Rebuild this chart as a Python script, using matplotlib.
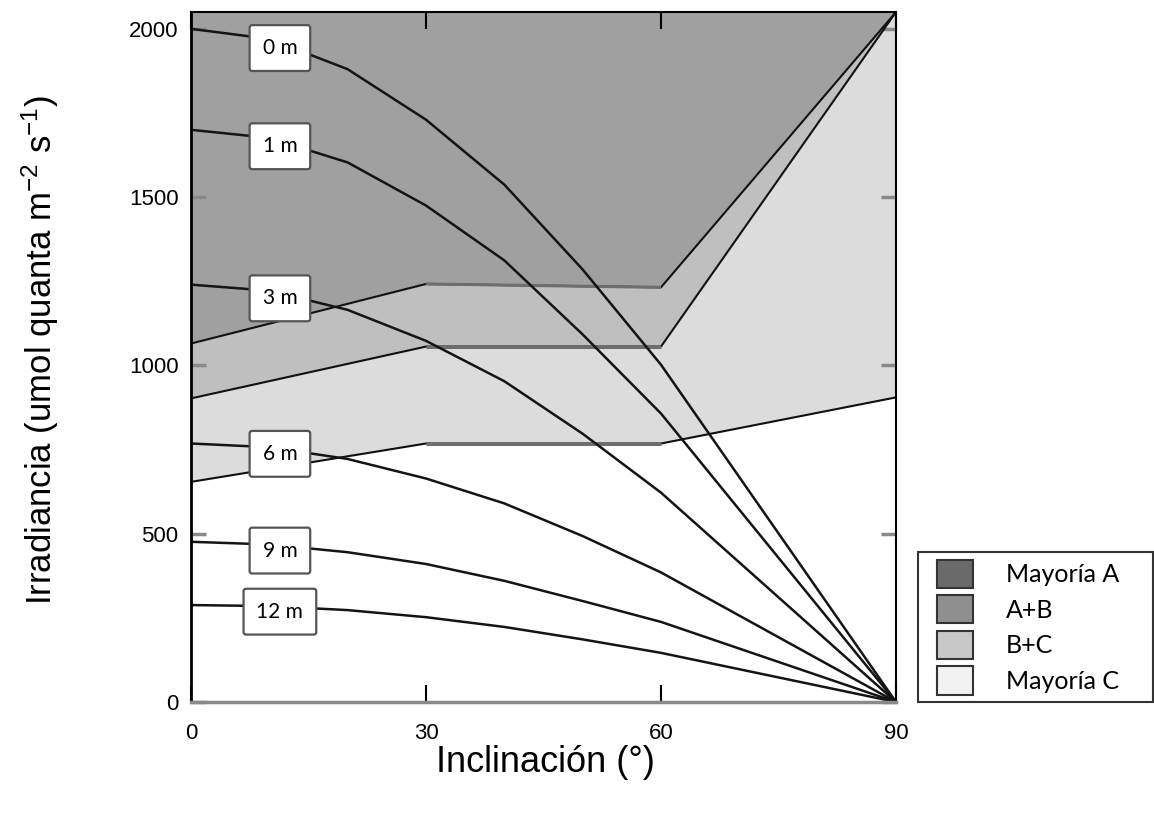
import matplotlib
matplotlib.use("Agg")
import matplotlib.pyplot as plt
from matplotlib.patches import Patch, Rectangle
from matplotlib.legend_handler import HandlerPatch
import numpy as np

plt.rcParams['font.family'] = ['Liberation Sans', 'DejaVu Sans']
plt.rcParams['mathtext.default'] = 'regular'

# ---- data ----
inclinacion = [0, 10, 20, 30, 40, 50, 60, 90]
depth_labels = ['0 m', '1 m', '3 m', '6 m', '9 m', '12 m']
irr_0m = [2000, 1970, 1880, 1730, 1537, 1285, 1002, 0]
irr_1m = [1700, 1676, 1603, 1475, 1312, 1092, 857, 0]
irr_3m = [1240, 1222, 1165, 1073, 953, 797, 622, 0]
irr_6m = [768, 757, 722, 664, 590, 493, 385, 0]
irr_9m = [476, 468, 445, 410, 360, 300, 238, 0]
irr_12m = [288, 285, 273, 252, 223, 186, 146, 0]
series = [irr_0m, irr_1m, irr_3m, irr_6m, irr_9m, irr_12m]

limite_x = [0, 30, 60, 90]
limite_sup = [1065, 1242, 1232, 2050]
limite_med = [902, 1056, 1056, 2050]
limite_inf = [654, 768, 768, 905]

legend_labels = ['Mayoría A', 'A+B', 'B+C', 'Mayoría C']
legend_colors = ['#6a6a6a', '#8f8f8f', '#c8c8c8', '#f2f2f2']

YMAX = 2050

W, H = 1154, 827
fig = plt.figure(figsize=(W / 100, H / 100), dpi=100)
ax = fig.add_axes([191 / W, 1 - 702 / H, (896 - 191) / W, (702 - 12) / H])
ax.set_xlim(0, 90)
ax.set_ylim(0, YMAX)

# ---- regions ----
ax.fill_between(limite_x, limite_sup, YMAX, color='#a0a0a0', lw=0, zorder=1)
ax.fill_between(limite_x, limite_med, limite_sup, color='#bfbfbf', lw=0, zorder=1)
ax.fill_between(limite_x, limite_inf, limite_med, color='#dcdcdc', lw=0, zorder=1)

for lim in (limite_sup, limite_med, limite_inf):
    ax.plot(limite_x, lim, color='#111111', lw=1.5, zorder=2, solid_capstyle='butt')
    ax.plot(limite_x[1:3], lim[1:3], color='#6e6e6e', lw=2.2, zorder=2.1,
            solid_capstyle='butt')

# ---- depth curves ----
for vals in series:
    ax.plot(inclinacion, vals, color='#141414', lw=1.8, zorder=3)

label_x = 11.35
for lab, vals in zip(depth_labels, series):
    yv = np.interp(label_x, inclinacion, vals) - 15
    ax.text(label_x, yv, lab, ha='center', va='center', fontsize=15,
            family=['Lato', 'DejaVu Sans'], zorder=6,
            bbox=dict(boxstyle='round,pad=0.62,rounding_size=0.12', fc='white',
                      ec='#555555', lw=1.6))

# ---- axes styling ----
ax.spines['left'].set_linewidth(2)
ax.spines['left'].set_color('black')
for side in ('top', 'right'):
    ax.spines[side].set_linewidth(1.5)
    ax.spines[side].set_color('black')
ax.spines['bottom'].set_linewidth(2.5)
ax.spines['bottom'].set_color('#8a8a8a')
for s in ax.spines.values():
    s.set_zorder(7)

ax.set_xticks([0, 30, 60, 90])
ax.set_yticks([0, 500, 1000, 1500, 2000])
ax.tick_params(axis='x', direction='in', top=True, length=12, width=1.5,
               color='black', labelsize=16, pad=15)
ax.tick_params(axis='y', direction='in', right=True, length=11, width=2.5,
               color='#8a8a8a', labelcolor='black', labelsize=16, pad=9)

fig.text(545 / W, 1 - 762 / H, 'Inclinación (°)', ha='center', va='center',
         fontsize=26)
fig.text(40 / W, 1 - 350 / H, 'Irradiancia (umol quanta m$^{-2}$ s$^{-1}$)',
         ha='center', va='center', rotation=90, fontsize=25)

# ---- legend ----
LEG_OFFSET = 8.5  # points of extra space left of each swatch


def swatch(legend, orig_handle, xdescent, ydescent, width, height, fontsize):
    return Rectangle((-xdescent + LEG_OFFSET, -ydescent),
                     width - LEG_OFFSET, height)


handles = [Patch(facecolor=c, edgecolor='#333333', lw=1.5) for c in legend_colors]
leg = fig.legend(handles, legend_labels, loc='lower left',
                 bbox_to_anchor=(918 / W, 1 - 702 / H, 235 / W, 149 / H),
                 mode='expand', fancybox=False, edgecolor='#333333',
                 prop={'family': ['Lato', 'DejaVu Sans'], 'size': 18},
                 handler_map={Patch: HandlerPatch(patch_func=swatch)},
                 handlelength=1.44 + LEG_OFFSET / 18, handleheight=1.35,
                 handletextpad=1.3, borderpad=0.3, labelspacing=0.3,
                 borderaxespad=0)
leg.get_frame().set_linewidth(1.5)
leg.get_frame().set_alpha(1)

fig.savefig('out.png', dpi=100)
